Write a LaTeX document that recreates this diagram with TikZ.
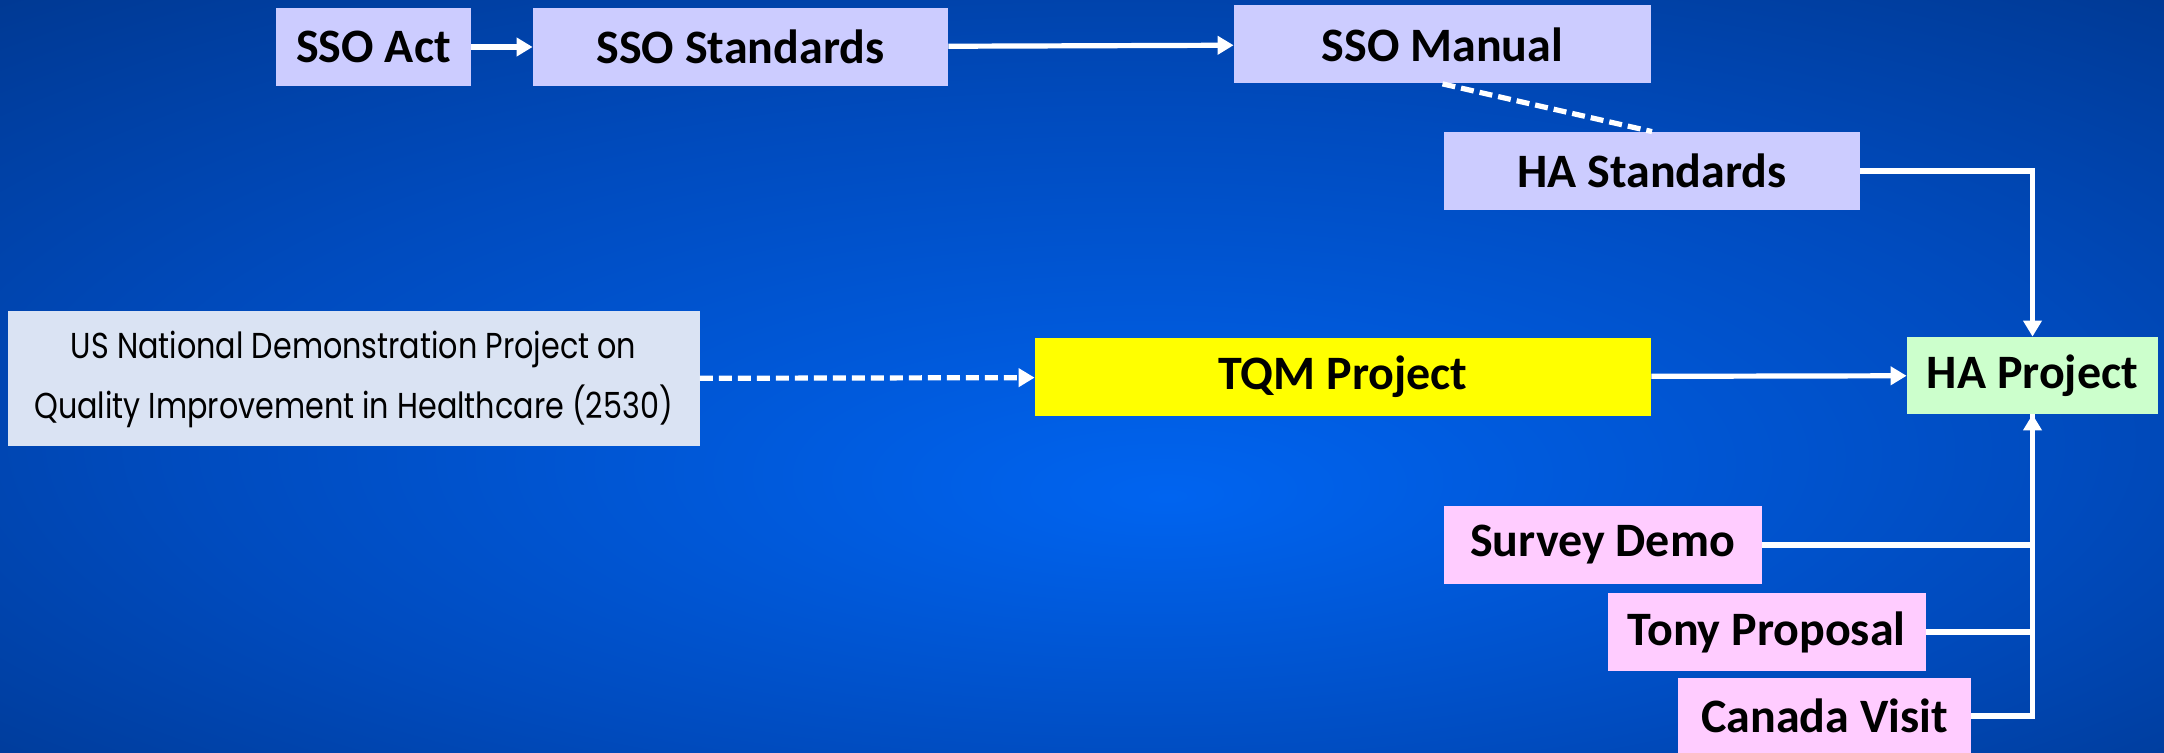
\documentclass[tikz,border=0pt]{standalone}
\usepackage{fontspec}
\setmainfont{Carlito}
\newfontfamily\geo[FakeStretch=0.84]{Poppins}
\usetikzlibrary{arrows.meta}
\definecolor{bgA}{RGB}{0,100,240}
\definecolor{bgB}{RGB}{0,75,190}
\definecolor{bgC}{RGB}{0,42,112}
\pgfdeclareradialshading{bgshade}{\pgfpoint{2bp}{-8bp}}{%
  color(0bp)=(bgA); color(22bp)=(bgB); color(50bp)=(bgC)}
\definecolor{lav}{RGB}{204,204,255}
\definecolor{usblue}{RGB}{218,227,243}
\definecolor{tqmyel}{RGB}{255,255,0}
\definecolor{hagreen}{RGB}{204,255,204}
\definecolor{pinkbox}{RGB}{255,204,255}
\begin{document}
\begin{tikzpicture}[x=0.5pt,y=-0.5pt,
  box/.style={inner sep=0pt, minimum height=39pt, text=black,
    font=\fontsize{24}{28}\selectfont\bfseries},
  conn/.style={draw=white, line width=2.6pt},
  arr/.style={conn, -{Triangle[length=8pt,width=9pt]}},
  dashconn/.style={conn, dash pattern=on 6.5pt off 3pt}]
\useasboundingbox (0,0) rectangle (2164,753);
\clip (0,0) rectangle (2164,753);
\shade[shading=bgshade] (0,0) rectangle (2164,753);

\node[box, fill=lav, minimum width=97.5pt] (ssoact) at (373.5,47) {SSO Act};
\node[box, fill=lav, minimum width=207.5pt] (ssostd) at (740.5,47) {SSO Standards};
\node[box, fill=lav, minimum width=208.5pt] (ssoman) at (1442.5,44.5) {SSO Manual};
\node[box, fill=lav, minimum width=208pt] (hastd) at (1652,171) {HA Standards};
\node[inner sep=0pt, fill=usblue, minimum width=346pt, minimum height=67.5pt,
  align=center, text=black, font=\geo\fontsize{18}{30}\selectfont] (us) at (353.5,379)
  {US National Demonstration Project on\\Quality Improvement in Healthcare (2530)};
\node[box, fill=tqmyel, minimum width=308pt] (tqm) at (1343,377) {TQM Project};
\node[box, fill=hagreen, minimum width=125.5pt, minimum height=38.5pt] (haproj) at (2032.5,375.5) {HA Project};
\node[box, fill=pinkbox, minimum width=159pt] (survey) at (1602.5,545) {Survey Demo};
\node[box, fill=pinkbox, minimum width=159pt] (tony) at (1766.5,632) {Tony Proposal};
\node[box, fill=pinkbox, minimum width=146.5pt, minimum height=38pt] (canada) at (1824.5,716) {Canada Visit};

\draw[arr] (ssoact) -- (ssostd);
\draw[arr] (ssostd) -- (ssoman);
\draw[dashconn] (ssoman.south) -- (hastd.north);
\draw[arr] (hastd.east) -| (haproj.north);
\draw[arr, dash pattern=on 6.5pt off 3pt] (us) -- (tqm);
\draw[arr] (tqm) -- (haproj);
\draw[arr] (survey.east) -| (haproj.south);
\draw[conn] (tony.east) -| (haproj.south);
\draw[conn] (canada.east) -| (haproj.south);
\end{tikzpicture}
\end{document}
